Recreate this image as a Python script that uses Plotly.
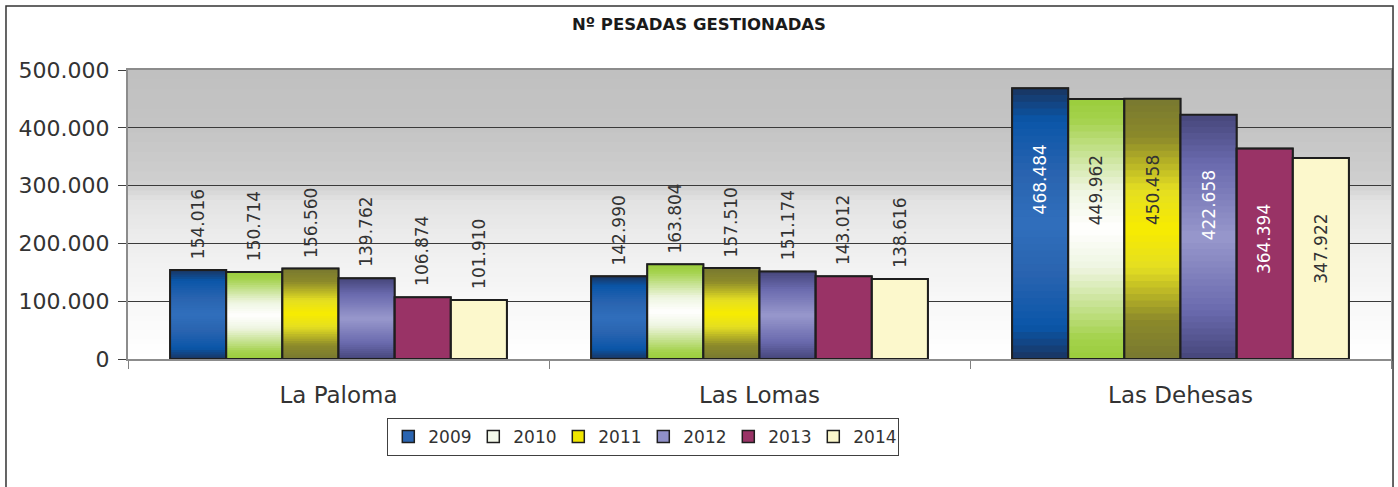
import plotly.graph_objects as go

# ---------------- data ----------------
categories = ["La Paloma", "Las Lomas", "Las Dehesas"]
years = ["2009", "2010", "2011", "2012", "2013", "2014"]
v2009 = [154016, 142990, 468484]
v2010 = [150714, 163804, 449962]
v2011 = [156560, 157510, 450458]
v2012 = [139762, 151174, 422658]
v2013 = [106874, 143012, 364394]
v2014 = [101910, 138616, 347922]
y_ticks = [0, 100000, 200000, 300000, 400000, 500000]
title_text = "Nº PESADAS GESTIONADAS"

series = [v2009, v2010, v2011, v2012, v2013, v2014]

# ---------------- styles ----------------
# vertical gradient stops (fraction from bottom, colour) – Excel style shading
gradients = [
    [(0, "#1a3560"), (0.12, "#0a56a8"), (0.32, "#2a64b0"), (0.5, "#306fbc"),
     (0.68, "#2a64b0"), (0.88, "#0a56a8"), (1, "#1a3560")],
    [(0, "#9acd3c"), (0.08, "#a4d24c"), (0.35, "#eef5e0"), (0.5, "#ffffff"),
     (0.65, "#eef5e0"), (0.92, "#a4d24c"), (1, "#9acd3c")],
    [(0, "#787830"), (0.15, "#8c8a2a"), (0.35, "#e4de22"), (0.5, "#f8ec00"),
     (0.65, "#e4de22"), (0.85, "#8c8a2a"), (1, "#787830")],
    [(0, "#46467a"), (0.2, "#6a6aae"), (0.5, "#9898cc"), (0.8, "#6a6aae"),
     (1, "#46467a")],
    None,
    None,
]
solid = ["#2a64b0", "#f4f9ea", "#f0e600", "#9090c8", "#993366", "#fcf8cc"]
inside_text_colors = ["white", "#333333", "#333333", "white", "white", "#333333"]
outline = "#1e1e1e"
N_SLICES = 40
BARGAP = 0.2


def hex2rgb(h):
    h = h.lstrip("#")
    return tuple(int(h[i:i + 2], 16) for i in (0, 2, 4))


def interp(stops, f):
    for (f0, c0), (f1, c1) in zip(stops[:-1], stops[1:]):
        if f0 <= f <= f1:
            t = 0 if f1 == f0 else (f - f0) / (f1 - f0)
            a, b = hex2rgb(c0), hex2rgb(c1)
            return "rgb(%d,%d,%d)" % tuple(round(a[k] + (b[k] - a[k]) * t) for k in range(3))
    return stops[-1][1]


fig = go.Figure()

for i, (yr, vals) in enumerate(zip(years, series)):
    og = yr
    # base bar (carries legend entry)
    fig.add_trace(go.Bar(
        x=categories, y=vals, name=yr, offsetgroup=og, legendgroup=yr,
        marker=dict(color=solid[i], line=dict(color=outline, width=1.5)),
        showlegend=True, hoverinfo="skip",
    ))
    if gradients[i] is not None:
        for k in range(N_SLICES):
            f = (k + 0.5) / N_SLICES
            bases = [v * k / N_SLICES for v in vals]
            fig.add_trace(go.Bar(
                x=categories,
                y=[min(v / N_SLICES * 2.5, v - b) for v, b in zip(vals, bases)],
                base=bases,
                offsetgroup=og, legendgroup=yr, showlegend=False,
                marker=dict(color=interp(gradients[i], f), line=dict(width=0)),
                hoverinfo="skip",
            ))
    # outline on top
    fig.add_trace(go.Bar(
        x=categories, y=vals, offsetgroup=og, legendgroup=yr, showlegend=False,
        marker=dict(color="rgba(0,0,0,0)", line=dict(color=outline, width=2)),
        hovertemplate=yr + ": %{y:,}<extra></extra>",
    ))

# data labels
w = (1 - BARGAP) / len(years)
annotations = []
for i, vals in enumerate(series):
    for c, v in enumerate(vals):
        xpos = c - (1 - BARGAP) / 2 + (i + 0.5) * w
        txt = f"{v:,}".replace(",", ".")
        inside = c == 2
        annotations.append(dict(
            x=xpos, y=v, xref="x", yref="y", text=txt, textangle=-90,
            showarrow=False,
            yanchor="top" if inside else "bottom",
            yshift=-54 if inside else 9,
            font=dict(family="DejaVu Sans", size=17,
                      color=inside_text_colors[i] if inside else "#333333"),
        ))

# plot-area background gradient (grey at top fading to white)
bg_stops = [(0, "#ffffff"), (0.2, "#f8f8f8"), (0.4, "#eeeeee"), (0.55, "#e2e2e2"),
            (0.6, "#d0d0d0"), (0.8, "#c4c4c4"), (1, "#c0c0c0")]
shapes = []
NB = 60
for k in range(NB):
    shapes.append(dict(
        type="rect", xref="x domain", yref="y domain",
        x0=0, x1=1, y0=k / NB, y1=(k + 1) / NB + 0.004,
        fillcolor=interp(bg_stops, (k + 0.5) / NB), line=dict(width=0),
        layer="below",
    ))
# outer chart frame
shapes.append(dict(
    type="rect", xref="paper", yref="paper",
    x0=-0.0966, x1=1.0016, y0=-0.6, y1=1.2215,
    line=dict(color="#333333", width=1.5), fillcolor="rgba(0,0,0,0)", layer="above",
))

fig.update_layout(
    width=1398, height=487,
    margin=dict(l=128, r=7, t=70, b=128, autoexpand=False),
    paper_bgcolor="white", plot_bgcolor="rgba(0,0,0,0)",
    barmode="group", bargap=BARGAP, bargroupgap=0,
    separators=",.",
    title=dict(text="<b>" + title_text + "</b>", x=0.5, xanchor="center",
               y=1 - 24 / 487, yanchor="middle", automargin=False,
               font=dict(family="DejaVu Sans", size=16.5, color="#1a1a1a")),
    font=dict(family="DejaVu Sans", color="#333333"),
    showlegend=True,
    legend=dict(orientation="h", x=0.408, xanchor="center", y=-0.204, yanchor="top",
                bordercolor="#404040", borderwidth=1, bgcolor="white",
                font=dict(size=17, color="#333333"), itemwidth=30,
                entrywidth=40, entrywidthmode="pixels",
                traceorder="normal"),
    annotations=annotations,
    shapes=shapes,
)

fig.update_xaxes(
    type="category", showgrid=False, showline=True, linecolor="#8c8c8c", linewidth=2,
    mirror=True, ticks="outside", tickson="boundaries", ticklen=8, tickcolor="#808080",
    tickfont=dict(size=23, color="#333333"), ticklabelstandoff=14, automargin=False,
)
fig.update_yaxes(
    range=[0, 500000], tickvals=y_ticks, tickformat=",d",
    showgrid=True, gridcolor="#3a3a3a", gridwidth=1, zeroline=False,
    showline=True, linecolor="#8c8c8c", linewidth=2, mirror=True,
    ticks="outside", ticklen=8, tickcolor="#404040",
    tickfont=dict(size=22, color="#333333"), ticklabelstandoff=4, automargin=False,
)

fig.write_html("out.html", config={"displayModeBar": False},
               post_script="document.body.style.margin='0';")
